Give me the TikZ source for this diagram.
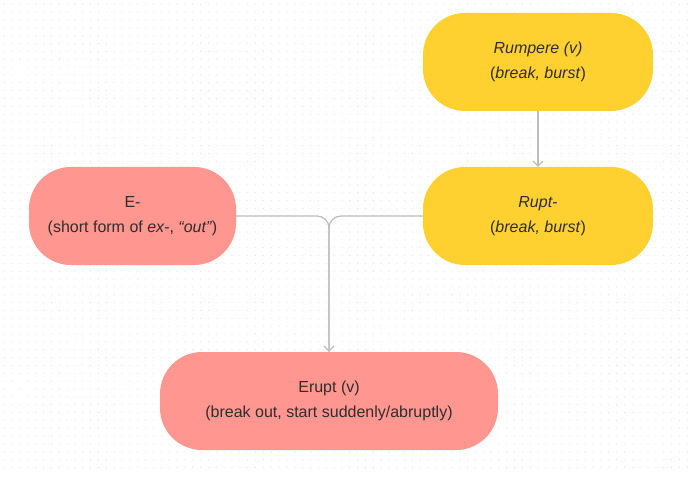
\documentclass[tikz,border=0pt]{standalone}
\usepackage{fontspec}
\setmainfont{Liberation Sans}
\usetikzlibrary{arrows.meta}
\definecolor{yel}{HTML}{FFD130}
\definecolor{pnk}{HTML}{FF9690}
\definecolor{txt}{HTML}{2E2E2E}
\definecolor{ln}{HTML}{BDBDBD}
\definecolor{dotc}{HTML}{E2E2E2}
\tikzset{
  box/.style={rounded corners=42pt, minimum height=98pt, align=center, text=txt,
    font=\fontsize{16}{25}\selectfont, inner sep=0pt},
  conn/.style={draw=ln, line width=1.2pt, -{Straight Barb[length=5pt,width=10pt]}},
}
\begin{document}
\begin{tikzpicture}[x=1pt,y=-1pt]
\fill[white] (0,0) rectangle (700,478);
\useasboundingbox (0,0) rectangle (700,478);
\foreach \i in {0,...,87}{\foreach \j in {0,...,59}{\fill[dotc] (4.3+7.85*\i,4.3+7.85*\j) circle (0.55pt);}}
\node[box, fill=yel, minimum width=230pt] (rum) at (538,62) {\textit{Rumpere (v)}\\(\textit{break, burst})};
\node[box, fill=yel, minimum width=230pt] (rup) at (538,216) {\textit{Rupt-}\\(\textit{break, burst})};
\node[box, fill=pnk, minimum width=207pt] (e) at (132.5,216) {E-\\(short form of \textit{ex-}, \textit{“out”})};
\node[box, fill=pnk, minimum width=338pt] (eru) at (329,401) {Erupt (v)\\(break out, start suddenly/abruptly)};
\draw[conn] (rum.south) -- (rup.north);
\draw[draw=ln, line width=1.2pt, rounded corners=12pt] (e.east) -| (eru.north);
\draw[conn, rounded corners=12pt] (rup.west) -| (eru.north);
\end{tikzpicture}
\end{document}
